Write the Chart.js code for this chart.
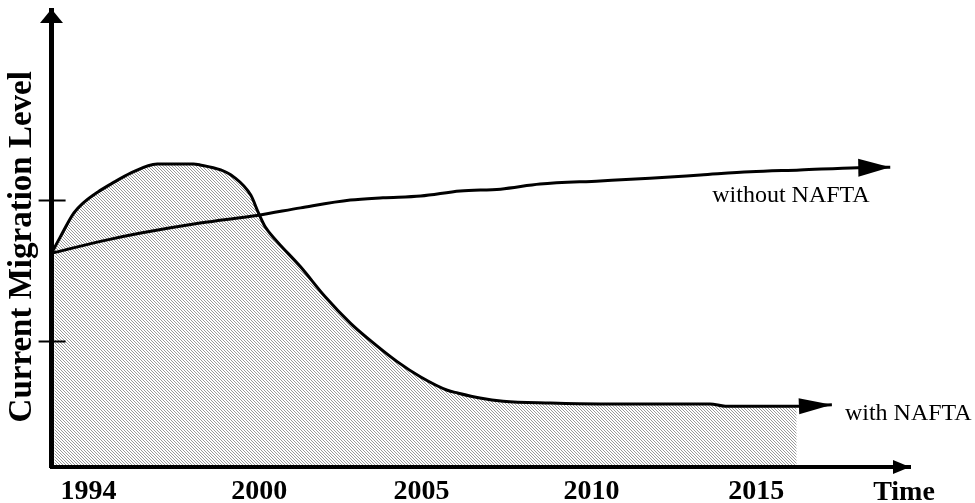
<!DOCTYPE html>
<html>
<head>
<meta charset="utf-8">
<script src="https://cdn.jsdelivr.net/npm/chart.js@4.4.0/dist/chart.umd.min.js"></script>
<style>
  html, body { margin: 0; padding: 0; background: #fff; }
</style>
</head>
<body>
<canvas id="chart" width="975" height="503"></canvas>
<script>
// x: abstract time axis (0 = origin, 100 = arrow tip), y: relative migration level (0..100)
const tickPositions = [4.3, 24.2, 43.1, 62.9, 82.1];
const tickLabels = ["1994", "2000", "2005", "2010", "2015"];
const levelTicks = [27.6, 58.4];
const seriesNames = ["without NAFTA", "with NAFTA"];

const timeWithout = [0, 6.5, 10.4, 17.3, 24.1, 29.0, 34.8, 38.6, 43.0, 47.6, 52.3, 56.9, 63.9, 69.7, 75.6, 81.4, 87.2, 93.9, 97.7];
const levelWithout = [46.8, 49.7, 51.2, 53.4, 55.1, 56.7, 58.4, 58.9, 59.3, 60.4, 60.8, 61.9, 62.6, 63.2, 63.9, 64.6, 65.0, 65.5, 65.6];

const timeWith = [0, 1.0, 2.6, 3.7, 5.4, 6.9, 9.2, 12.3, 16.5, 17.3, 19.7, 21.2, 23.2, 24.1, 24.9, 26.1, 29.0, 31.9, 34.8, 36.8, 40.3, 43.0, 46.1, 47.3, 49.9, 52.6, 58.1, 63.9, 76.7, 78.5, 86.8, 90.9];
const levelWith = [46.8, 50.3, 55.6, 57.8, 60.2, 61.9, 64.3, 66.3, 66.3, 66.1, 65.0, 63.5, 59.5, 55.6, 52.5, 49.7, 43.8, 37.2, 31.5, 28.2, 23.0, 19.7, 16.8, 16.2, 15.1, 14.4, 14.0, 13.8, 13.8, 13.3, 13.3, 13.6];

const serif = "'Liberation Serif', 'Times New Roman', serif";

const toPoints = (xs, ys) => xs.map((x, i) => ({ x, y: ys[i] }));
const withoutPts = toPoints(timeWithout, levelWithout);
const withPts = toPoints(timeWith, levelWith);

function hatchPattern(ctx) {
  const c = document.createElement("canvas");
  c.width = 3;
  c.height = 3;
  const g = c.getContext("2d");
  g.fillStyle = "#fff";
  g.fillRect(0, 0, 3, 3);
  g.fillStyle = "#9a9a9a";
  for (let i = 0; i < 3; i++) g.fillRect(i, i, 1, 1);
  return ctx.createPattern(c, "repeat");
}

function triangle(ctx, x, y, angle, len, half) {
  ctx.save();
  ctx.translate(x, y);
  ctx.rotate(angle);
  ctx.beginPath();
  ctx.moveTo(0, 0);
  ctx.lineTo(-len, -half);
  ctx.lineTo(-len, half);
  ctx.closePath();
  ctx.fill();
  ctx.restore();
}

const sketchPlugin = {
  id: "sketch",
  afterDatasetsDraw(chart) {
    const ctx = chart.ctx;
    ctx.fillStyle = "#000";
    chart.data.datasets.forEach((ds, i) => {
      if (!ds.arrow) return;
      const pts = chart.getDatasetMeta(i).data;
      const tip = pts[pts.length - 1];
      const prev = pts[pts.length - 2];
      const a = Math.atan2(tip.y - prev.y, tip.x - prev.x);
      triangle(ctx, tip.x, tip.y, a, ds.arrow.len, ds.arrow.half);
      ctx.font = "24px " + serif;
      ctx.textAlign = "left";
      ctx.textBaseline = "alphabetic";
      ctx.fillText(ds.label, tip.x + ds.arrow.dx, tip.y + ds.arrow.dy);
    });
  },
  afterDraw(chart) {
    const ctx = chart.ctx;
    const area = chart.chartArea;
    const y = chart.scales.y;
    ctx.save();
    ctx.fillStyle = "#000";
    ctx.strokeStyle = "#000";
    // axis arrowheads
    triangle(ctx, 51.5, area.top - 1, -Math.PI / 2, 14, 11.5);
    triangle(ctx, area.right, area.bottom, 0, 17, 7);
    // level tick marks crossing the y axis
    ctx.lineWidth = 2;
    y.ticks.forEach(t => {
      const py = Math.round(y.getPixelForValue(t.value)) + 0.5;
      ctx.beginPath();
      ctx.moveTo(area.left - 13, py);
      ctx.lineTo(area.left + 14, py);
      ctx.stroke();
    });
    ctx.font = "bold 28px " + serif;
    ctx.textAlign = "center";
    ctx.textBaseline = "alphabetic";
    ctx.fillText("Time", area.right - 6, area.bottom + 33);
    ctx.restore();
  }
};

new Chart(document.getElementById("chart"), {
  type: "line",
  data: {
    datasets: [
      {
        label: "area",
        data: withPts.slice(0, -1),
        fill: "origin",
        backgroundColor: hatchPattern(document.getElementById("chart").getContext("2d")),
        borderColor: "rgba(0,0,0,0)",
        borderWidth: 0,
        pointRadius: 0,
        cubicInterpolationMode: "monotone",
        clip: { left: -3, top: 0, right: 0, bottom: -2 },
        order: 1
      },
      {
        label: seriesNames[0],
        data: withoutPts,
        fill: false,
        borderColor: "#000",
        borderWidth: 3,
        pointRadius: 0,
        cubicInterpolationMode: "monotone",
        order: 0,
        arrow: { len: 32, half: 9, dx: -178, dy: 35 }
      },
      {
        label: seriesNames[1],
        data: withPts,
        fill: false,
        borderColor: "#000",
        borderWidth: 3,
        pointRadius: 0,
        cubicInterpolationMode: "monotone",
        order: 0,
        arrow: { len: 33, half: 8, dx: 13, dy: 15 }
      }
    ]
  },
  options: {
    responsive: false,
    devicePixelRatio: 1,
    animation: false,
    layout: { padding: { left: 0, top: 10, right: 65, bottom: 0 } },
    plugins: { legend: { display: false }, tooltip: { enabled: false } },
    scales: {
      x: {
        type: "linear",
        min: 0,
        max: 100,
        afterBuildTicks: s => { s.ticks = tickPositions.map(v => ({ value: v })); },
        afterFit: s => { s.height = 36; },
        ticks: {
          autoSkip: false,
          maxRotation: 0,
          padding: 14,
          color: "#000",
          font: { family: serif, size: 28, weight: "bold", lineHeight: 0.8 },
          callback: (v, i) => tickLabels[i]
        },
        grid: { display: false, drawTicks: false },
        border: { display: true, width: 4, color: "#000" }
      },
      y: {
        type: "linear",
        min: 0,
        max: 100,
        afterBuildTicks: s => { s.ticks = levelTicks.map(v => ({ value: v })); },
        ticks: { display: false },
        grid: { display: false, drawTicks: false },
        border: { display: true, width: 5, color: "#000" },
        title: {
          display: true,
          text: "Current Migration Level  ",
          color: "#000",
          font: { family: serif, size: 33, weight: "bold" },
          padding: { top: 3, bottom: 9 }
        }
      }
    }
  },
  plugins: [sketchPlugin]
});
</script>
</body>
</html>
